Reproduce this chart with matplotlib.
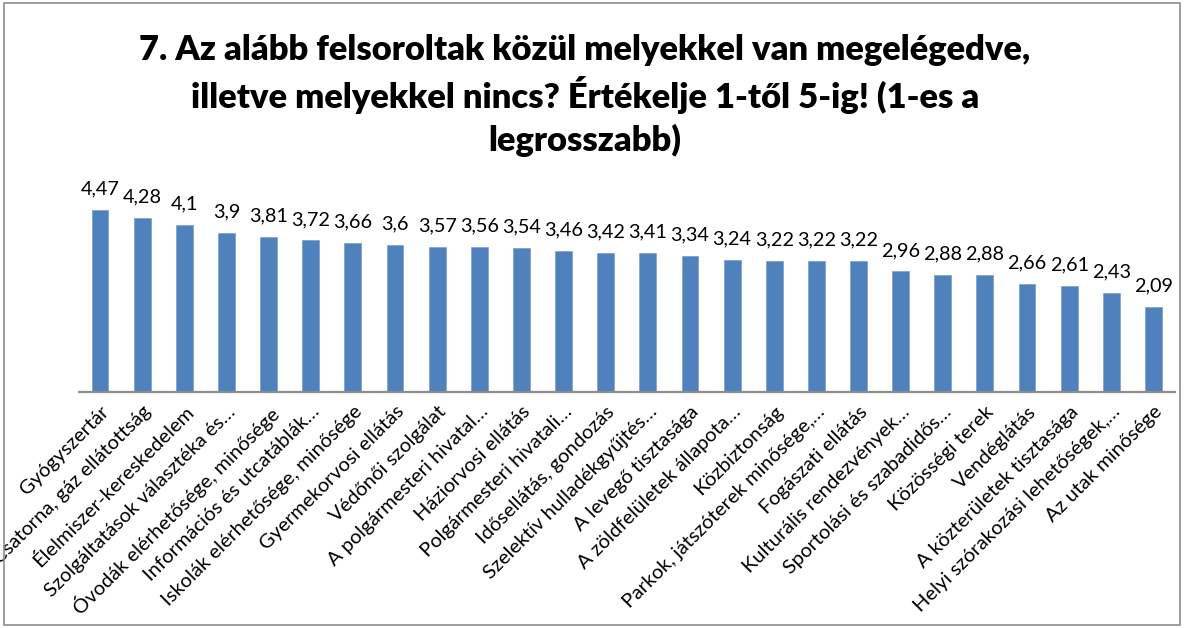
import matplotlib
matplotlib.use("Agg")
import matplotlib.pyplot as plt
from matplotlib.patches import Rectangle

categories = [
    "Gyógyszertár",
    "Csatorna, gáz ellátottság",
    "Élelmiszer-kereskedelem",
    "Szolgáltatások választéka és…",
    "Óvodák elérhetősége, minősége",
    "Információs és utcatáblák…",
    "Iskolák elérhetősége, minősége",
    "Gyermekorvosi ellátás",
    "Védőnői szolgálat",
    "A polgármesteri hivatal…",
    "Háziorvosi ellátás",
    "Polgármesteri hivatali…",
    "Idősellátás, gondozás",
    "Szelektív hulladékgyűjtés…",
    "A levegő tisztasága",
    "A zöldfelületek állapota…",
    "Közbiztonság",
    "Parkok, játszóterek minősége,…",
    "Fogászati ellátás",
    "Kulturális rendezvények…",
    "Sportolási és szabadidős…",
    "Közösségi terek",
    "Vendéglátás",
    "A közterületek tisztasága",
    "Helyi szórakozási lehetőségek,…",
    "Az utak minősége",
]
values = [4.47, 4.28, 4.1, 3.9, 3.81, 3.72, 3.66, 3.6, 3.57, 3.56, 3.54, 3.46,
          3.42, 3.41, 3.34, 3.24, 3.22, 3.22, 3.22, 2.96, 2.88, 2.88, 2.66,
          2.61, 2.43, 2.09]
title_lines = [
    "7. Az alább felsoroltak közül melyekkel van megelégedve,",
    "illetve melyekkel nincs? Értékelje 1-től 5-ig! (1-es a",
    "legrosszabb)",
]

plt.rcParams['font.family'] = ['Lato', 'DejaVu Sans']

fig = plt.figure(figsize=(11.84, 6.28), dpi=100)
ax = fig.add_axes([0.0667, 0.376, 0.9253, 0.324])

x = list(range(len(categories)))
ax.bar(x, values, width=0.4, color="#4F81BD", edgecolor="#7FA3D0", linewidth=0.6)
ax.set_xlim(-0.5, len(categories) - 0.5)
ax.set_ylim(0, 5)

for xi, v in zip(x, values):
    lbl = f"{v:g}".replace(".", ",")
    ax.annotate(lbl, (xi, v), xytext=(0, 9), textcoords="offset points",
                ha="center", va="bottom", fontsize=14.3, color="black")

ax.set_xticks(x)
ax.set_xticklabels(categories, rotation=45, ha="right", va="top",
                   rotation_mode="anchor", fontsize=14.5)
ax.tick_params(axis="x", length=0, pad=8)
ax.set_yticks([])
for s in ["top", "right", "left"]:
    ax.spines[s].set_visible(False)
ax.spines["bottom"].set_color("#8C8C8C")
ax.spines["bottom"].set_linewidth(1.6)

for yy, line in zip([0.920, 0.849, 0.777], title_lines):
    fig.text(0.494, yy, line, ha="center", va="center", fontsize=24.8,
             fontweight="heavy")

fig.patches.append(Rectangle((0.003, 0.004), 0.994, 0.992, transform=fig.transFigure,
                             fill=False, edgecolor="#8C8C8C", linewidth=1.2))

fig.savefig("out.png", dpi=100)
